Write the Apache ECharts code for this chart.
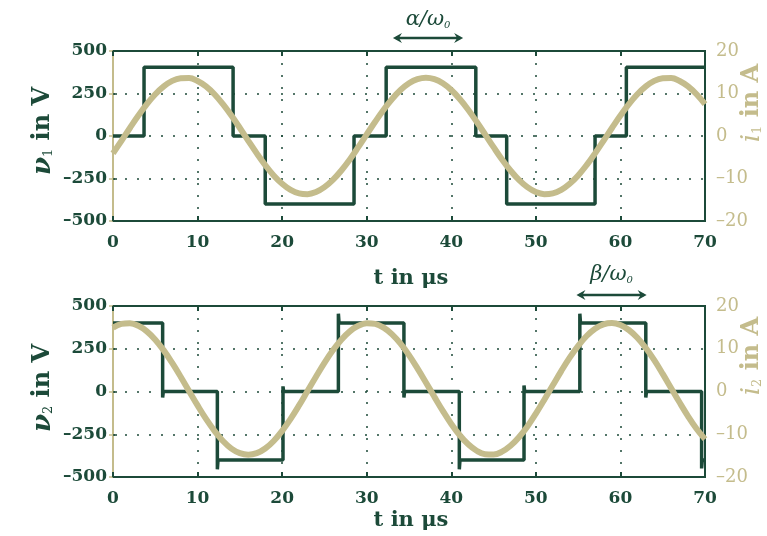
<!DOCTYPE html>
<html><head><meta charset="utf-8">
<script src="https://cdn.jsdelivr.net/npm/echarts@6/dist/echarts.min.js"></script>
<style>html,body{margin:0;padding:0;background:#fff}#c{width:767px;height:536px}</style>
</head><body><div id="c"></div>
<script>
// ---------- data ----------
const xTicks = [0, 10, 20, 30, 40, 50, 60, 70];
const vTicks = [-500, -250, 0, 250, 500];
const iTicks = [-20, -10, 0, 10, 20];
const time = [0,1,2,3,4,5,6,7,8,9,10,11,12,13,14,15,16,17,18,19,20,21,22,23,24,25,26,27,28,29,30,31,32,33,34,35,36,37,38,39,40,41,42,43,44,45,46,47,48,49,50,51,52,53,54,55,56,57,58,59,60,61,62,63,64,65,66,67,68,69,70];
const i1 = [-4.09,-1.13,1.88,4.80,7.49,9.82,11.67,12.96,13.58,13.66,
  12.95,11.67,9.82,7.49,4.81,1.88,-1.13,-4.09,-6.85,-9.28,
  -11.25,-12.69,-13.50,-13.68,-13.20,-12.04,-10.33,-8.12,-5.53,-2.63,
  0.38,3.36,6.19,8.71,10.81,12.39,13.37,13.70,13.37,12.39,
  10.81,8.71,6.19,3.36,0.38,-2.63,-5.53,-8.12,-10.33,-12.04,
  -13.20,-13.68,-13.50,-12.69,-11.25,-9.28,-6.85,-4.09,-1.13,1.88,
  4.80,7.49,9.82,11.67,12.96,13.58,13.66,12.95,11.67,9.82,7.49];
const i2 = [14.94,15.82,15.97,15.38,14.08,12.13,9.62,6.68,3.46,0.09,
  -3.25,-6.41,-9.21,-11.58,-13.36,-14.43,-14.80,-14.43,-13.34,-11.57,
  -9.21,-6.40,-3.25,0.10,3.46,6.69,9.63,12.13,14.08,15.38,
  15.97,15.82,14.94,13.37,11.19,8.50,5.40,2.12,-1.25,-4.54,
  -7.59,-10.23,-12.35,-13.86,-14.67,-14.74,-14.08,-12.71,-10.70,-8.17,
  -5.16,-1.93,1.44,4.78,7.91,10.68,12.98,14.68,15.70,16.00,
  15.55,14.39,12.56,10.17,7.32,4.12,0.77,-2.59,-5.80,-8.71,-11.15];
const v1Time = [0,3.67,3.67,14.2,14.2,18.0,18.0,28.5,28.5,32.3,32.3,42.9,42.9,46.55,46.55,57.0,57.0,60.7,60.7,70];
const v1Val  = [0,0,405,405,0,0,-400,-400,0,0,405,405,0,0,-400,-400,0,0,405,405];
const v2Time = [0,5.87,5.87,5.95,12.34,12.34,12.42,20.1,20.1,20.18,26.65,26.65,26.73,34.4,34.4,34.48,40.95,40.95,41.03,48.6,48.6,48.68,55.2,55.2,55.28,63.0,63.0,63.08,69.6,69.6,69.68,70];
const v2Val  = [400,400,-35,0,0,-455,-400,-400,30,0,0,455,400,400,-35,0,0,-455,-400,-400,35,0,0,455,400,400,-35,0,0,-450,-400,-400];
const alphaSpan = [33.1, 41.4];
const betaSpan = [54.8, 63.1];

// ---------- style ----------
const GREEN = '#1c4a39', TAN = '#c4bc8c', FONT = 'DejaVu Serif';
const pairs = (xs, ys) => xs.map((x, k) => [x, ys[k]]);

function xAx(g, pos, labels) {
  return {
    type: 'value', gridIndex: g, position: pos, min: 0, max: 70, interval: 10,
    axisLine: {show: true, onZero: false, lineStyle: {color: GREEN, width: 2}},
    axisTick: {show: true, inside: true, length: 5, lineStyle: {color: GREEN, width: 2}},
    axisLabel: {show: labels, color: GREEN, fontFamily: FONT, fontWeight: 'bold', fontSize: 17, margin: 13,
      formatter: v => xTicks.includes(v) ? String(v) : ''},
    splitLine: {show: labels, lineStyle: {color: GREEN, type: [2, 10], width: 1.5}}
  };
}
function yLeft(g) {
  return {
    type: 'value', gridIndex: g, position: 'left', min: -500, max: 500, interval: 250,
    axisLine: {show: true, lineStyle: {color: GREEN, width: 2}},
    axisTick: {show: true, inside: true, length: 4, lineStyle: {color: GREEN, width: 1.5}},
    axisLabel: {color: GREEN, fontFamily: FONT, fontWeight: 'bold', fontSize: 17, margin: 6,
      formatter: v => vTicks.includes(v) ? (v < 0 ? '\u2013' + (-v) : String(v)) : ''},
    splitLine: {show: true, lineStyle: {color: GREEN, type: [2, 10], width: 1.5}}
  };
}
function yRight(g) {
  return {
    type: 'value', gridIndex: g, position: 'right', min: -20, max: 20, interval: 10,
    axisLine: {show: true, lineStyle: {color: TAN, width: 2}},
    axisTick: {show: true, inside: true, length: 4, lineStyle: {color: TAN, width: 1.5}},
    axisLabel: {color: TAN, fontFamily: FONT, fontSize: 18, margin: 11,
      formatter: v => iTicks.includes(v) ? (v < 0 ? '\u2013' + (-v) : String(v)) : ''},
    splitLine: {show: false}
  };
}

const chart = echarts.init(document.getElementById('c'), null, {renderer: 'canvas'});
const option = {
  animation: false,
  backgroundColor: '#fff',
  grid: [
    {left: 113, right: 62, top: 51, height: 170, show: true, borderColor: GREEN, borderWidth: 2},
    {left: 113, right: 62, top: 306, height: 171, show: true, borderColor: GREEN, borderWidth: 2}
  ],
  xAxis: [xAx(0, 'bottom', true), xAx(1, 'bottom', true), xAx(0, 'top', false), xAx(1, 'top', false)],
  yAxis: [yLeft(0), yRight(0), yLeft(1), yRight(1)],
  series: [
    {type: 'line', xAxisIndex: 0, yAxisIndex: 0, data: pairs(v1Time, v1Val), showSymbol: false,
      lineStyle: {color: GREEN, width: 3.5}, z: 3},
    {type: 'line', xAxisIndex: 1, yAxisIndex: 2, data: pairs(v2Time, v2Val), showSymbol: false,
      lineStyle: {color: GREEN, width: 3.5}, z: 3},
    {type: 'line', xAxisIndex: 0, yAxisIndex: 1, data: pairs(time, i1), showSymbol: false, smooth: 0.4,
      lineStyle: {color: TAN, width: 6}, z: 4},
    {type: 'line', xAxisIndex: 1, yAxisIndex: 3, data: pairs(time, i2), showSymbol: false, smooth: 0.4,
      lineStyle: {color: TAN, width: 6}, z: 4}
  ]
};
chart.setOption(option);

function rotLabel(x, y, sym, sub, rest, color, italicSym) {
  return {
    type: 'text', x: x, y: y, rotation: Math.PI / 2, z: 10,
    style: {
      text: '{a|' + sym + '}{s|' + sub + '}{b|' + rest + '}',
      align: 'center', verticalAlign: 'middle',
      rich: {
        a: {fontFamily: FONT, fontStyle: 'italic', fontWeight: italicSym ? 'normal' : 'bold', fontSize: 26, fill: color, color: color},
        s: {fontFamily: FONT, fontSize: 13, fill: color, color: color, padding: [12, 0, 0, 0]},
        b: {fontFamily: FONT, fontWeight: 'bold', fontSize: 24, fill: color, color: color}
      }
    }
  };
}
function arrow(xa, xb, y, greek, ty) {
  const h = 5, L = 9;
  return [
    {type: 'line', shape: {x1: xa + 3, y1: y, x2: xb - 3, y2: y}, style: {stroke: GREEN, lineWidth: 2.5}, z: 10},
    {type: 'polygon', shape: {points: [[xa, y], [xa + L, y - h], [xa + L - 3, y], [xa + L, y + h]]}, style: {fill: GREEN}, z: 10},
    {type: 'polygon', shape: {points: [[xb, y], [xb - L, y - h], [xb - L + 3, y], [xb - L, y + h]]}, style: {fill: GREEN}, z: 10},
    {type: 'text', x: (xa + xb) / 2, y: ty, z: 10,
      style: {
        text: '{g|' + greek + '/\u03c9}{s|0}', align: 'center', verticalAlign: 'middle',
        rich: {
          g: {fontFamily: FONT, fontStyle: 'italic', fontSize: 21, fill: GREEN, color: GREEN},
          s: {fontFamily: FONT, fontStyle: 'italic', fontSize: 10, fill: GREEN, color: GREEN, padding: [10, 0, 0, 0]}
        }
      }}
  ];
}

const px = (g, v) => chart.convertToPixel({xAxisIndex: g}, v);
const topY0 = 51, botY0 = 306;
const graphics = [].concat(
  arrow(px(0, alphaSpan[0]), px(0, alphaSpan[1]), topY0 - 13, '\u03b1', topY0 - 31),
  arrow(px(1, betaSpan[0]), px(1, betaSpan[1]), botY0 - 11, '\u03b2', botY0 - 31),
  [
    rotLabel(43, 131, '\u03bd', '1', ' in V', GREEN, false),
    rotLabel(43, 388, '\u03bd', '2', ' in V', GREEN, false),
    rotLabel(752, 103, 'i', '1', ' in A', TAN, true),
    rotLabel(752, 356, 'i', '2', ' in A', TAN, true),
    {type: 'text', x: 411, y: 279, z: 10, style: {text: 't in \u03bcs', align: 'center', verticalAlign: 'middle',
      fontFamily: FONT, fontWeight: 'bold', fontSize: 21, fill: GREEN}},
    {type: 'text', x: 411, y: 521, z: 10, style: {text: 't in \u03bcs', align: 'center', verticalAlign: 'middle',
      fontFamily: FONT, fontWeight: 'bold', fontSize: 21, fill: GREEN}}
  ]
);
chart.setOption({graphic: graphics});
</script></body></html>
